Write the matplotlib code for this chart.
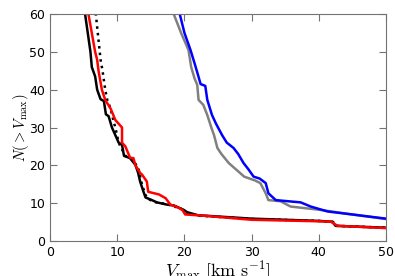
import numpy as np
import matplotlib
matplotlib.use("Agg")
import matplotlib.pyplot as plt

plt.rcParams['mathtext.fontset'] = 'cm'

# cumulative Vmax functions
black_v = [4.9, 5.2, 6.0, 6.2, 6.7, 7.0, 7.5, 8.0, 8.3, 8.7, 9.2, 9.7, 10.2, 10.7, 11.0, 11.9,
           12.7, 13.1, 13.4, 13.9, 14.2, 14.9, 15.9, 17.4, 18.4, 19.9, 20.4, 22.0, 30.0, 40.0,
           42.0, 42.5, 50.0]
black_n = [62, 60, 50, 46, 43.5, 40, 37.5, 37, 33.5, 33, 30, 28, 26, 25.4, 22.5, 21.9,
           20.1, 18, 15.7, 13, 11.5, 11.0, 10.2, 9.6, 9.4, 8.2, 7.6, 6.8, 5.9, 5.3,
           5.1, 4.0, 3.5]

dot_v = [6.7, 6.8, 7.5, 7.8, 8.2, 8.5, 9.0, 9.4, 9.7, 10.2, 11.2, 12.2, 13.1, 13.6, 14.1, 14.5,
         15.5, 17.5, 19.5, 20.5, 22.0, 30.0, 40.0, 42.2, 42.6, 50.0]
dot_n = [62, 60, 48, 45, 40, 37.3, 35, 32, 30, 26, 22.5, 21.5, 19.5, 15.5, 12.5, 11.2,
         10.3, 9.7, 8.5, 7.3, 6.7, 5.8, 5.3, 5.0, 4.0, 3.5]

red_v = [5.6, 5.7, 6.7, 7.0, 7.2, 7.7, 8.2, 9.0, 9.4, 9.7, 10.7, 10.7, 11.2, 11.9, 12.4, 12.7,
         13.4, 13.7, 14.4, 14.6, 16.2, 17.2, 17.9, 18.9, 19.7, 20.1, 22.0, 30.0, 40.0, 41.8,
         42.8, 50.0]
red_n = [62, 60, 50, 47.9, 45, 40, 37.3, 35, 33.3, 32, 30, 26, 25, 22, 21.9, 20,
         18, 17.5, 15.7, 13, 12.3, 11.3, 9.6, 9, 8.2, 7.0, 6.8, 5.6, 5.2, 5.1,
         4.0, 3.4]

gray_v = [18.3, 18.4, 19.5, 20.6, 21.0, 21.5, 21.9, 22.1, 22.8, 23.4, 24.0, 24.4, 24.9, 25.5,
          26.6, 28.9, 30.5, 31.3, 32.1, 32.5, 34.3, 35.8, 40.3, 45.0, 50.0]
gray_n = [62, 60, 55, 50.5, 46, 43, 41.3, 37.3, 36, 33.3, 30, 28, 24.6, 23,
          20.6, 17, 16, 15.3, 12.6, 10.8, 10.5, 9.1, 8.2, 7.0, 5.8]

blue_v = [19.2, 19.3, 20.0, 20.9, 21.5, 22.0, 22.4, 23.1, 23.4, 24.1, 24.7, 25.6, 26.3, 27.3,
          28.0, 28.8, 29.5, 30.3, 31.2, 32.1, 32.5, 33.6, 37.3, 38.8, 41.3, 45.0, 50.0]
blue_n = [62, 60, 55, 50.5, 47, 44, 41.5, 41, 37.3, 33.3, 31, 28, 26, 24.6,
          23, 20.6, 19, 17, 16.5, 15.3, 12.6, 10.8, 10.2, 9.1, 7.8, 7.0, 5.9]

fig = plt.figure(figsize=(3.95, 2.76), dpi=100)
ax = fig.add_axes([0.127, 0.127, 0.85, 0.822])

ax.plot(black_v, black_n, color='k', lw=1.8)
ax.plot(dot_v, dot_n, color='k', lw=1.8, ls=':')
ax.plot(red_v, red_n, color='r', lw=1.8)
ax.plot(gray_v, gray_n, color='0.5', lw=1.8)
ax.plot(blue_v, blue_n, color='b', lw=1.8)

ax.set_xlim(0, 50)
ax.set_ylim(0, 60)
ax.set_xticks([0, 10, 20, 30, 40, 50])
ax.set_yticks([0, 10, 20, 30, 40, 50, 60])
ax.tick_params(direction='in', top=True, right=True, length=5, color='0.45', labelsize=9)
for s in ax.spines.values():
    s.set_color('0.45')

ax.set_xlabel(r'$V_{\rm max}\ [{\rm km\ s^{-1}}]$', fontsize=13, labelpad=0)
ax.set_ylabel(r'$N(>V_{\rm max})$', fontsize=10.5, labelpad=-1)

fig.savefig('out.png', dpi=100)
